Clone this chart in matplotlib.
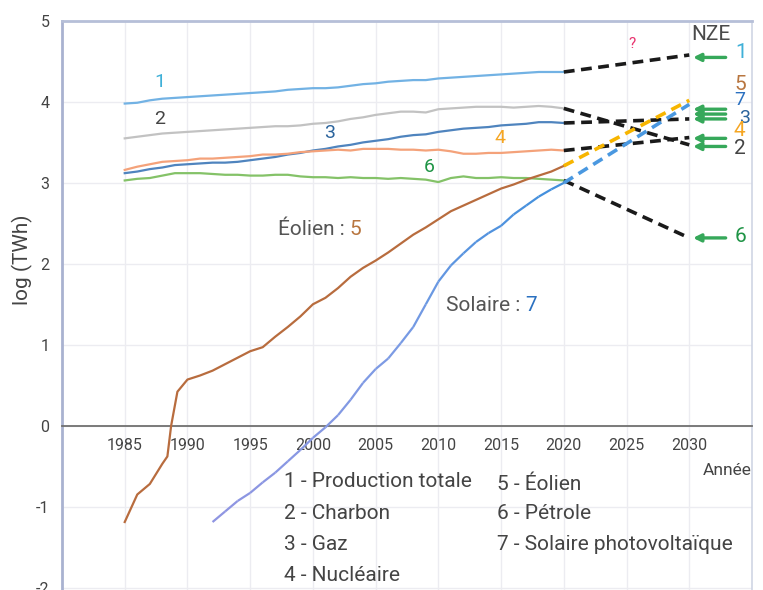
import matplotlib
matplotlib.use("Agg")
import matplotlib.pyplot as plt
import numpy as np
from matplotlib.collections import LineCollection
from matplotlib.colors import LinearSegmentedColormap

plt.rcParams['font.family'] = ['Roboto', 'DejaVu Sans']
plt.rcParams['axes.unicode_minus'] = False

# log10 of world electricity production (TWh)
years = list(range(1985, 2021))
total = [3.98, 3.99, 4.02, 4.04, 4.05, 4.06, 4.07, 4.08, 4.09, 4.10, 4.11, 4.12,
         4.13, 4.15, 4.16, 4.17, 4.17, 4.18, 4.20, 4.22, 4.23, 4.25, 4.26, 4.27,
         4.27, 4.29, 4.30, 4.31, 4.32, 4.33, 4.34, 4.35, 4.36, 4.37, 4.37, 4.37]
charbon = [3.55, 3.57, 3.59, 3.61, 3.62, 3.63, 3.64, 3.65, 3.66, 3.67, 3.68, 3.69,
           3.70, 3.70, 3.71, 3.73, 3.74, 3.76, 3.79, 3.81, 3.84, 3.86, 3.88, 3.88,
           3.87, 3.91, 3.92, 3.93, 3.94, 3.94, 3.94, 3.93, 3.94, 3.95, 3.94, 3.92]
gaz = [3.12, 3.14, 3.17, 3.19, 3.22, 3.23, 3.24, 3.25, 3.25, 3.26, 3.28, 3.30,
       3.32, 3.35, 3.37, 3.40, 3.42, 3.45, 3.47, 3.50, 3.52, 3.54, 3.57, 3.59,
       3.60, 3.63, 3.65, 3.67, 3.68, 3.69, 3.71, 3.72, 3.73, 3.75, 3.75, 3.74]
nucleaire = [3.16, 3.20, 3.23, 3.26, 3.27, 3.28, 3.30, 3.30, 3.31, 3.32, 3.33, 3.35,
             3.35, 3.36, 3.38, 3.39, 3.40, 3.41, 3.40, 3.42, 3.42, 3.42, 3.41, 3.41,
             3.40, 3.41, 3.39, 3.36, 3.36, 3.37, 3.37, 3.38, 3.39, 3.40, 3.41, 3.40]
petrole = [3.03, 3.05, 3.06, 3.09, 3.12, 3.12, 3.12, 3.11, 3.10, 3.10, 3.09, 3.09,
           3.10, 3.10, 3.08, 3.07, 3.07, 3.06, 3.07, 3.06, 3.06, 3.05, 3.06, 3.05,
           3.04, 3.01, 3.06, 3.08, 3.06, 3.06, 3.07, 3.06, 3.06, 3.05, 3.04, 3.03]

years_eolien = [1985, 1986, 1987, 1988, 1988.4, 1988.7, 1989.2, 1990, 1991, 1992,
                1993, 1994, 1995, 1996, 1997, 1998, 1999, 2000, 2001, 2002, 2003,
                2004, 2005, 2006, 2007, 2008, 2009, 2010, 2011, 2012, 2013, 2014,
                2015, 2016, 2017, 2018, 2019, 2020]
eolien = [-1.19, -0.85, -0.72, -0.47, -0.38, 0.0, 0.42, 0.57, 0.62, 0.68,
          0.76, 0.84, 0.92, 0.97, 1.10, 1.22, 1.35, 1.50, 1.58, 1.70, 1.84,
          1.95, 2.04, 2.14, 2.25, 2.36, 2.45, 2.55, 2.65, 2.72, 2.79, 2.86,
          2.93, 2.98, 3.04, 3.09, 3.14, 3.21]

years_solaire = list(range(1992, 2021))
solaire = [-1.19, -1.06, -0.93, -0.83, -0.70, -0.58, -0.44, -0.30, -0.15, -0.02,
           0.13, 0.32, 0.53, 0.70, 0.83, 1.02, 1.22, 1.50, 1.78, 1.98, 2.13,
           2.27, 2.38, 2.47, 2.61, 2.72, 2.83, 2.92, 3.00]

# NZE 2030 projections (start 2020 -> 2030)
proj_years = [2020, 2030]
proj_total = [4.37, 4.58]
proj_charbon = [3.92, 3.47]
proj_gaz = [3.74, 3.79]
proj_nucleaire = [3.40, 3.56]
proj_petrole = [3.03, 2.32]
proj_eolien = [3.21, 4.02]
proj_solaire = [3.00, 3.97]
nze_arrows = [4.55, 3.91, 3.85, 3.79, 3.55, 3.45, 2.32]

legend_left = ['1 - Production totale', '2 - Charbon', '3 - Gaz', '4 - Nucléaire']
legend_right = ['5 - Éolien', '6 - Pétrole', '7 - Solaire photovoltaïque']

fig = plt.figure(figsize=(7.63, 5.9), dpi=100)
ax = fig.add_axes([62 / 763, 0, 690 / 763, 569 / 590])
ax.set_xlim(1980, 2035)
ax.set_ylim(-2.03, 5)

lw = 1.6
ax.plot(years, total, color='#72b2e4', lw=lw, zorder=3)
ax.plot(years, charbon, color='#c2c2c2', lw=lw, zorder=3)
ax.plot(years, gaz, color='#4f84be', lw=lw, zorder=3)
ax.plot(years, nucleaire, color='#f4a27a', lw=lw, zorder=3)
ax.plot(years, petrole, color='#84c268', lw=lw, zorder=3)
ax.plot(years_eolien, eolien, color='#b86c3e', lw=lw, zorder=3)

# solar line shades from periwinkle to blue
pts = np.array([years_solaire, solaire]).T.reshape(-1, 1, 2)
segs = np.concatenate([pts[:-1], pts[1:]], axis=1)
cmap = LinearSegmentedColormap.from_list('sol', ['#8f95e2', '#7b9be4', '#3f8fdc'])
lc = LineCollection(segs, cmap=cmap, lw=lw, zorder=3)
lc.set_array(np.array(solaire[:-1]))
lc.set_clim(-1.2, 3.0)
ax.add_collection(lc)

dash = dict(lw=2.6, dashes=(3, 1.8), zorder=4)
for p in [proj_total, proj_charbon, proj_gaz, proj_nucleaire, proj_petrole]:
    ax.plot(proj_years, p, color='#1a1a1a', **dash)
ax.plot(proj_years, proj_eolien, color='#f7b500', **dash)
ax.plot(proj_years, proj_solaire, color='#4a98e0', **dash)

for y in nze_arrows:
    ax.annotate('', xy=(2030.3, y), xytext=(2032.9, y),
                arrowprops=dict(arrowstyle='-|>', color='#36a85a', lw=2.4,
                                mutation_scale=11, shrinkA=0, shrinkB=0),
                zorder=5)

# numbers at the right end
fs_r = 15
ax.text(2034.1, 4.61, '1', color='#3fb0d8', fontsize=fs_r, ha='center', va='center')
ax.text(2034.1, 4.21, '5', color='#b87640', fontsize=fs_r, ha='center', va='center')
ax.text(2034.0, 4.02, '7', color='#2a70c0', fontsize=14, ha='center', va='center')
ax.text(2034.4, 3.80, '3', color='#2a639c', fontsize=14, ha='center', va='center')
ax.text(2034.0, 3.65, '4', color='#f5a623', fontsize=fs_r, ha='center', va='center')
ax.text(2034.0, 3.42, '2', color='#444444', fontsize=fs_r, ha='center', va='center')
ax.text(2034.1, 2.34, '6', color='#1f9446', fontsize=fs_r, ha='center', va='center')
ax.text(2031.7, 4.83, 'NZE', color='#4a4a4a', fontsize=15, ha='center', va='center')
ax.text(2025.4, 4.71, '?', color='#e8336e', fontsize=11, ha='center', va='center')

# labels in the plot
ax.text(1987.8, 4.25, '1', color='#3fb0d8', fontsize=14, ha='center', va='center')
ax.text(1987.8, 3.79, '2', color='#444444', fontsize=14, ha='center', va='center')
ax.text(2001.3, 3.62, '3', color='#2a639c', fontsize=14, ha='center', va='center')
ax.text(2014.9, 3.55, '4', color='#f5a623', fontsize=14, ha='center', va='center')
ax.text(2009.3, 3.20, '6', color='#1f9446', fontsize=14, ha='center', va='center')
t = ax.text(1997.2, 2.43, 'Éolien : ', color='#555555', fontsize=15, ha='left', va='center')
ax.annotate('5', xycoords=t, xy=(1, 0), va='bottom', fontsize=15, color='#b87640')
t = ax.text(2010.6, 1.48, 'Solaire : ', color='#555555', fontsize=15, ha='left', va='center')
ax.annotate('7', xycoords=t, xy=(1, 0), va='bottom', fontsize=15, color='#2a70c0')

# legend text
rows_y = [-0.69, -1.09, -1.47, -1.85]
for s, y in zip(legend_left, rows_y):
    ax.text(1997.7, y, s, fontsize=15, color='#444444', va='center')
for s, y in zip(legend_right, [-0.73, -1.09, -1.47]):
    ax.text(2014.7, y, s, fontsize=15, color='#444444', va='center')
ax.text(2035.0, -0.55, 'Année', fontsize=12.5, color='#444444', ha='right', va='center')

ax.set_xticks(range(1985, 2031, 5))
ax.set_yticks(range(-2, 6))
ax.tick_params(length=0, labelsize=11.5, labelcolor='#444444')
ax.tick_params(axis='x', pad=9)
ax.tick_params(axis='y', pad=9)
ax.set_ylabel('log (TWh)', fontsize=15, color='#444444')
ax.yaxis.set_label_coords(-0.042, 0.58)

ax.grid(color='#ececf1', lw=1)
ax.set_axisbelow(True)
ax.spines['bottom'].set_position(('data', 0))
ax.spines['bottom'].set_color('#707070')
ax.spines['bottom'].set_linewidth(1.3)
ax.spines['left'].set_color('#a9b2d0')
ax.spines['left'].set_linewidth(2)
ax.spines['top'].set_color('#b6bfd8')
ax.spines['top'].set_linewidth(2)
ax.spines['right'].set_color('#cfd5e4')
ax.spines['right'].set_linewidth(1.2)

fig.savefig('out.png', dpi=100)
